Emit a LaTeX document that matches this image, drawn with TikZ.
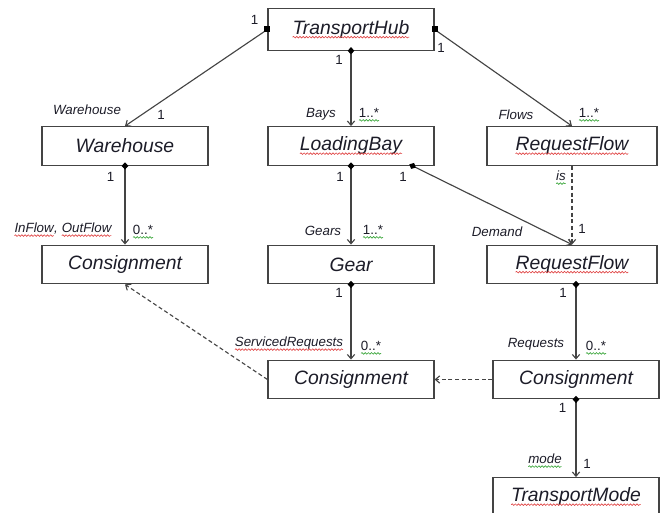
\documentclass[tikz,border=0pt]{standalone}
\usepackage{fontspec}
\setmainfont{Liberation Sans}
\usetikzlibrary{arrows.meta,positioning,decorations.pathmorphing}
\definecolor{edge}{HTML}{444444}
\definecolor{ink}{HTML}{1C1C28}
\definecolor{spellred}{HTML}{E04646}
\definecolor{spellgreen}{HTML}{3AA63A}
\tikzset{
  cls/.style   ={draw=edge,line width=0.9pt,minimum width=124.5pt,minimum height=29pt,inner sep=0pt,
                 font=\fontsize{14.5}{16}\selectfont\itshape,text=ink},
  role/.style  ={font=\fontsize{10}{12}\selectfont\itshape,inner sep=1pt,text=ink},
  mult/.style  ={font=\fontsize{10}{12}\selectfont,inner sep=1pt,text=ink},
  sqmark/.style={rectangle,fill=black,minimum size=4.5pt,inner sep=0pt},
  ar/.style    ={draw=edge,line width=0.85pt,-{Straight Barb[length=3.2pt,width=5.5pt]}},
  comp/.style  ={ar,{Diamond[length=5.5pt,width=5pt,color=black]}-{Straight Barb[length=3.2pt,width=5.5pt]},
                 shorten <=-2.75pt},
  dep/.style   ={ar,dash pattern=on 3pt off 2pt},
}
% spell-check squiggle under a word
\newcommand{\squig}[2]{\tikz[baseline=(sq.base)]{%
  \node[draw=none,fill=none,shape=rectangle,inner sep=0pt,outer sep=0pt,minimum size=0pt,anchor=base] (sq) {#2};
  \draw[#1,-,solid,line width=0.5pt,decorate,decoration={snake,amplitude=0.6pt,segment length=2.4pt}]
    ([yshift=-2pt]sq.base west) -- ([yshift=-2pt]sq.base east);}}

\begin{document}
\begin{tikzpicture}[x=0.75pt,y=-0.75pt]
  \useasboundingbox (0,0) rectangle (665,513);
  % classes
  \node[cls,minimum height=31pt] (hub) at (351,29.5) {\squig{spellred}{TransportHub}};
  \node[cls] (ware)  at (125,146)   {Warehouse};
  \node[cls] (bay)   at (351,146)   {\squig{spellred}{LoadingBay}};
  \node[cls,minimum width=127.5pt] (flow)  at (572,146)   {\squig{spellred}{RequestFlow}};
  \node[cls] (consL) at (125,264.5) {Consignment};
  \node[cls] (gear)  at (351,264.5) {Gear};
  \node[cls,minimum width=127.5pt] (flow2) at (572,264.5) {\squig{spellred}{RequestFlow}};
  \node[cls] (consM) at (351,379.5) {Consignment};
  \node[cls] (consR) at (576,379.5) {Consignment};
  \node[cls] (mode)  at (576,497)   {\squig{spellred}{TransportMode}};
  % associations
  \draw[ar] (hub.west) -- (ware.north);
  \draw[comp] (hub.south) -- (bay.north);
  \draw[ar] (hub.east) -- (flow.north);
  \node[sqmark] (hubW) at (hub.west) {};
  \node[sqmark] (hubE) at (hub.east) {};
  \draw[comp] (ware.south) -- (consL.north);
  \draw[comp] (bay.south) -- (gear.north);
  \draw[comp] ([xshift=-16.5pt]bay.south east) -- (flow2.north);
  \draw[dep] (flow.south) -- (flow2.north);
  \draw[comp] (gear.south) -- (consM.north);
  \draw[comp] (flow2.south -| consR.north) -- (consR.north);
  \draw[dep] (consR.west) -- (consM.east);
  \draw[dep] (consM.west) -- (consL.south);
  \draw[comp] (consR.south) -- (mode.north);
  % roles and multiplicities
  \node[mult] (mHubW)   at (254.5,20) {1};
  \node[mult] (mHubS)   at (339,60)   {1};
  \node[mult] (mHubE)   at (441,48)   {1};
  \node[role] (rWare)   at (87,110)   {Warehouse};
  \node[mult] (mWare)   at (161,115)  {1};
  \node[role] (rBays)   at (321,114)  {Bays};
  \node[mult] (mBays)   at (369,115)  {\squig{spellgreen}{1..*}};
  \node[role] (rFlows)  at (516,115)  {Flows};
  \node[mult] (mFlows)  at (589,115)  {\squig{spellgreen}{1..*}};
  \node[mult] (mWareS)  at (110.5,177) {1};
  \node[mult] (mBayS)   at (340,177)  {1};
  \node[mult] (mBayE)   at (403,177)  {1};
  \node[role] (rIs)     at (561,178)  {\squig{spellgreen}{is}};
  \node[role] (rInOut)  at (63,230)   {\squig{spellred}{InFlow}, \squig{spellred}{OutFlow}};
  \node[mult] (mCons)   at (143,232)  {\squig{spellgreen}{0..*}};
  \node[role] (rGears)  at (323,231)  {Gears};
  \node[mult] (mGears)  at (373,232)  {\squig{spellgreen}{1..*}};
  \node[role] (rDemand) at (497,232)  {Demand};
  \node[mult] (mDemand) at (582,229)  {1};
  \node[mult] (mGearS)  at (339,293)  {1};
  \node[mult] (mFlowS)  at (563,293)  {1};
  \node[role] (rServ)   at (289,344)  {\squig{spellred}{ServicedRequests}};
  \node[mult] (mServ)   at (371,348)  {\squig{spellgreen}{0..*}};
  \node[role] (rReq)    at (536,344)  {Requests};
  \node[mult] (mReq)    at (596,348)  {\squig{spellgreen}{0..*}};
  \node[mult] (mConsS)  at (562.5,408) {1};
  \node[role] (rMode)   at (545,461)  {\squig{spellgreen}{mode}};
  \node[mult] (mMode)   at (587,464)  {1};
\end{tikzpicture}
\end{document}
